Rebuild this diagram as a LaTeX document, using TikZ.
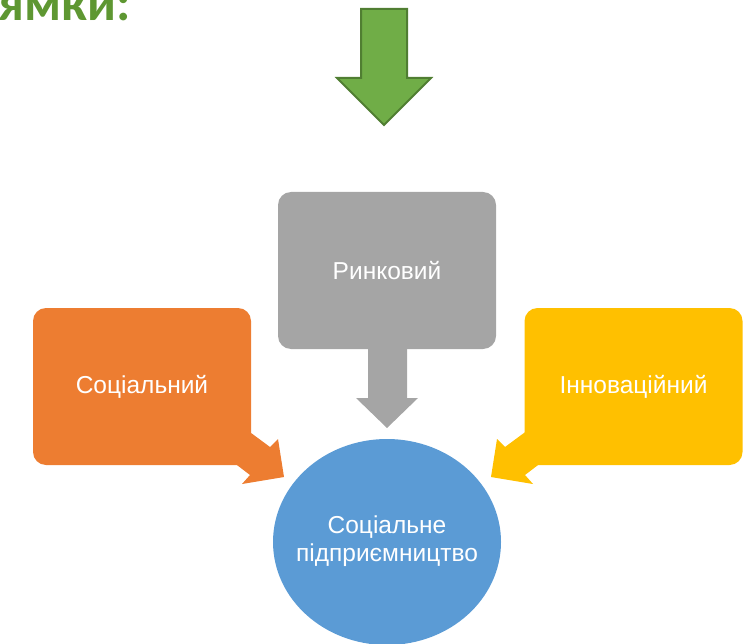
\documentclass[tikz,border=0pt]{standalone}
\usepackage{fontspec}
\setsansfont{Liberation Sans}
\newfontfamily\titlefont{Carlito}
\definecolor{socc}{HTML}{ED7D31}
\definecolor{rynkc}{HTML}{A5A5A5}
\definecolor{innc}{HTML}{FFC000}
\definecolor{spec}{HTML}{5B9BD5}
\definecolor{arrc}{HTML}{70AD47}
\definecolor{arrd}{HTML}{507E32}
\definecolor{titc}{HTML}{5E9732}
\tikzset{
  box/.style={rounded corners=13pt, minimum width=218pt, minimum height=157pt, inner sep=0pt,
    text=white, font=\sffamily\fontsize{24.5}{28}\selectfont},
}

\begin{document}
\begin{tikzpicture}[x=1pt,y=-1pt]
        \useasboundingbox (0,0) rectangle (749,644); \clip (0,0) rectangle (749,644);
        \node[anchor=base east, inner sep=0pt, text=titc, font=\titlefont\bfseries\fontsize{52}{56}\selectfont] (ttl) at (131,21) {ямки:};
        \filldraw[fill=arrc, draw=arrd, line width=2pt] (361,9)--(361,78)--(337,78)--(384,125)--(431,78)--(407,78)--(407,9)--cycle;
        \node[box, fill=rynkc] (rynk) at (387,270.5) {Ринковий};
        \node[box, fill=socc] (soc) at (142,386.5) {Соціальний};
        \node[box, fill=innc] (innov) at (633.5,386.5) {Інноваційний};
        \fill[rynkc] (368,345)--(368,398)--(356,398)--(387,428)--(418,398)--(407,398)--(407,345)--cycle;
        \foreach \sx/\col in {1/socc,-1/innc}
            \fill[\col, shift={(387.5,0)}, xscale=\sx] (-140.5,430)--(-117.5,447)--(-109.5,439)--(-103.5,477)--(-145.5,484)--(-137.5,475)--(-154.5,462)--cycle;
        \fill[spec] (387,542) ellipse [x radius=114, y radius=103];
        \node[align=center, text=white, font=\sffamily\fontsize{24.5}{28}\selectfont] (spe) at (387,541) {Соціальне\\підприємництво};
    \end{tikzpicture}
\end{document}
